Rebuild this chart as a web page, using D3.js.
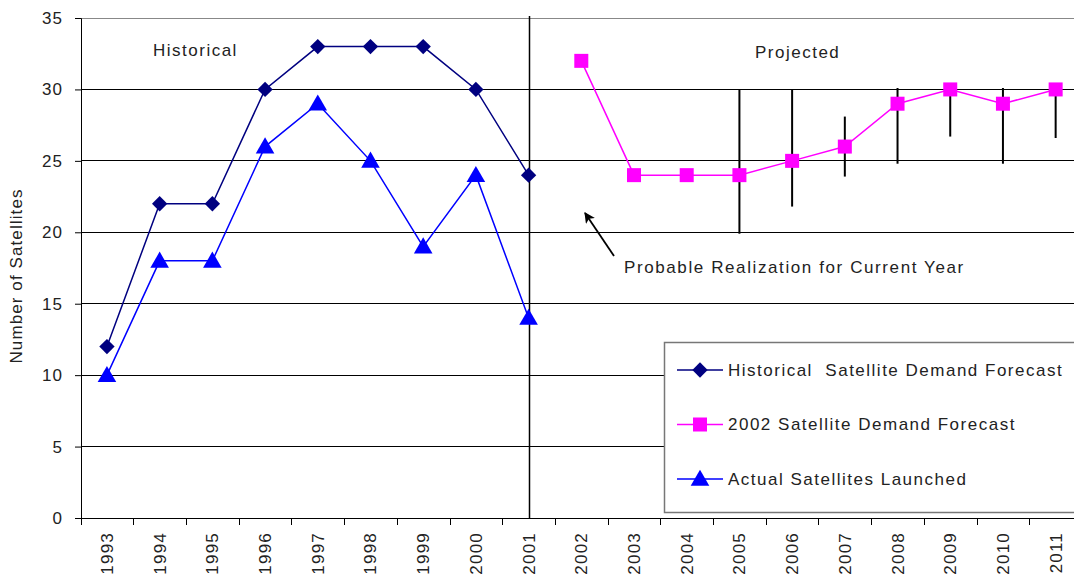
<!DOCTYPE html>
<html><head><meta charset="utf-8">
<script src="https://cdn.jsdelivr.net/npm/d3@7"></script>
<style>body{margin:0;background:#fff;} text{font-family:"Liberation Sans",Arial,sans-serif;fill:#222;}</style>
</head><body>
<svg id="c" width="1074" height="579"></svg>
<script>
const years = ["1993","1994","1995","1996","1997","1998","1999","2000","2001","2002","2003","2004","2005","2006","2007","2008","2009","2010","2011"];
const histYears = ["1993","1994","1995","1996","1997","1998","1999","2000","2001"];
const historicalForecast = [12,22,22,30,33,33,33,30,24];
const actualLaunched = [10,18,18,26,29,25,19,24,14];
const projYears = ["2002","2003","2004","2005","2006","2007","2008","2009","2010","2011"];
const forecast2002 = [32,24,24,24,25,26,29,30,29,30];
const rangeYears = ["2005","2006","2007","2008","2009","2010","2011"];
const rangeLow = [19.9,21.8,23.9,24.8,26.7,24.8,26.6];
const rangeHigh = [30,30,28.1,30.1,30,30.1,30];
const yTicks = [0,5,10,15,20,25,30,35];

const svg = d3.select("#c");
const x = d3.scaleBand().domain(years).range([80.6,1082]);
const y = d3.scaleLinear().domain([0,35]).range([518,18]);
const cx = d => x(d) + x.bandwidth()/2;

// gridlines
svg.append("g").selectAll("line").data(yTicks.filter(t=>t>0)).join("line")
  .attr("x1",81).attr("x2",1082).attr("y1",d=>y(d)).attr("y2",d=>y(d))
  .attr("stroke",d=>d===35?"#888":"#000").attr("stroke-width",1).attr("shape-rendering","crispEdges");

// y axis
const ya = svg.append("g").attr("transform","translate(81,0)")
  .call(d3.axisLeft(y).tickValues(yTicks).tickSize(6).tickPadding(12));
ya.select(".domain").attr("stroke","#000");
ya.selectAll("text").style("font-size","17px").style("letter-spacing","1px").attr("fill","#222");

// x axis
svg.append("line").attr("x1",81).attr("x2",1082).attr("y1",518.5).attr("y2",518.5).attr("stroke","#000");
svg.append("g").selectAll("line").data(years).join("line")
  .attr("x1",d=>Math.round(x(d))+0.5).attr("x2",d=>Math.round(x(d))+0.5).attr("y1",518).attr("y2",525).attr("stroke","#000");
svg.append("g").selectAll("text").data(years).join("text")
  .attr("transform",d=>`translate(${cx(d)+6},532) rotate(-90)`)
  .attr("text-anchor","end").style("font-size","17px").style("letter-spacing","1.2px").text(d=>d);

// y label
svg.append("text").attr("transform","translate(22,276) rotate(-90)").attr("text-anchor","middle")
  .style("font-size","17px").style("letter-spacing","1.1px").text("Number of Satellites");

// divider
svg.append("line").attr("x1",Math.round(cx("2001"))+0.5).attr("x2",Math.round(cx("2001"))+0.5)
  .attr("y1",16).attr("y2",518).attr("stroke","#000").attr("stroke-width",1.5);

// range bars
svg.append("g").selectAll("line").data(rangeYears).join("line")
  .attr("x1",d=>cx(d)).attr("x2",d=>cx(d))
  .attr("y1",(d,i)=>y(rangeLow[i])).attr("y2",(d,i)=>y(rangeHigh[i]))
  .attr("stroke","#000").attr("stroke-width",2);

const line = d3.line();
const hp = histYears.map((d,i)=>[cx(d),y(historicalForecast[i])]);
svg.append("path").attr("d",line(hp)).attr("fill","none").attr("stroke","#000080").attr("stroke-width",1.5);
const ap = histYears.map((d,i)=>[cx(d),y(actualLaunched[i])]);
svg.append("path").attr("d",line(ap)).attr("fill","none").attr("stroke","#0000ff").attr("stroke-width",1.5);
const fp = projYears.map((d,i)=>[cx(d),y(forecast2002[i])]);
svg.append("path").attr("d",line(fp)).attr("fill","none").attr("stroke","#ff00ff").attr("stroke-width",1.5);

const diamond = d3.symbol().type(d3.symbolDiamond2).size(150);
const tri = d3.symbol().type(d3.symbolTriangle).size(150);
svg.append("g").selectAll("path").data(hp).join("path")
  .attr("transform",d=>`translate(${d[0]},${d[1]})`).attr("d",diamond).attr("fill","#000080");
svg.append("g").selectAll("path").data(ap).join("path")
  .attr("transform",d=>`translate(${d[0]},${d[1]+1.5})`).attr("d",tri).attr("fill","#0000ff");
svg.append("g").selectAll("rect").data(fp).join("rect")
  .attr("x",d=>d[0]-7).attr("y",d=>d[1]-7).attr("width",14).attr("height",14).attr("fill","#ff00ff");

// annotations
svg.append("text").attr("x",153).attr("y",56).style("font-size","17px").style("letter-spacing","1.5px").text("Historical");
svg.append("text").attr("x",755).attr("y",58).style("font-size","17px").style("letter-spacing","1.5px").text("Projected");
svg.append("text").attr("x",624).attr("y",273).style("font-size","17px").style("letter-spacing","1.6px").text("Probable Realization for Current Year");
svg.append("defs").append("marker").attr("id","ah").attr("viewBox","0 0 10 10").attr("refX",9).attr("refY",5)
  .attr("markerWidth",6).attr("markerHeight",6).attr("orient","auto")
  .append("path").attr("d","M0,0L10,5L0,10L2.5,5Z").attr("fill","#000");
svg.append("line").attr("x1",614).attr("y1",256).attr("x2",585).attr("y2",213)
  .attr("stroke","#000").attr("stroke-width",1.8).attr("marker-end","url(#ah)");

// legend
const lg = svg.append("g");
lg.append("rect").attr("x",664.5).attr("y",342.5).attr("width",430).attr("height",170).attr("fill","#fff").attr("stroke","#777").attr("stroke-width",1.5);
const legItems = [
  {name:"Historical  Satellite Demand Forecast", color:"#000080", type:"diamond"},
  {name:"2002 Satellite Demand Forecast", color:"#ff00ff", type:"square"},
  {name:"Actual Satellites Launched", color:"#0000ff", type:"triangle"}
];
legItems.forEach((it,i)=>{
  const yy = 370 + i*54.5;
  lg.append("line").attr("x1",677).attr("x2",723).attr("y1",yy).attr("y2",yy).attr("stroke",it.color).attr("stroke-width",1.5);
  if(it.type==="diamond") lg.append("path").attr("transform",`translate(700,${yy})`).attr("d",diamond).attr("fill",it.color);
  if(it.type==="square") lg.append("rect").attr("x",693).attr("y",yy-7).attr("width",14).attr("height",14).attr("fill",it.color);
  if(it.type==="triangle") lg.append("path").attr("transform",`translate(700,${yy+1.5})`).attr("d",tri).attr("fill",it.color);
  lg.append("text").attr("x",728).attr("y",yy+5.5).style("font-size","17px").style("letter-spacing","1.5px").style("white-space","pre").text(it.name);
});
</script>
</body></html>
